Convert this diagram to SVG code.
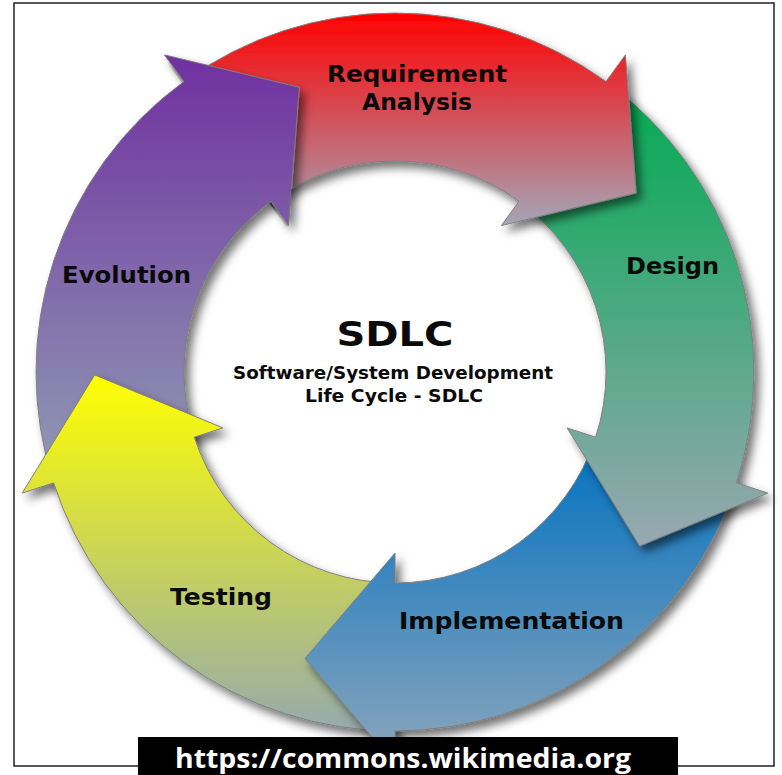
<svg xmlns="http://www.w3.org/2000/svg" xmlns:xlink="http://www.w3.org/1999/xlink" width="782" height="775" viewBox="0 0 782 775">
<style>
.arrow{stroke:#7f7f7f;stroke-width:1;stroke-linejoin:miter;filter:url(#sh)}
.lbl{font-family:"DejaVu Sans","Verdana",sans-serif;font-weight:bold;font-size:23px;fill:#0a0a0a;text-anchor:middle}
.title{font-family:"DejaVu Sans","Verdana",sans-serif;font-weight:bold;fill:#0a0a0a;text-anchor:middle}
.url{font-family:"Open Sans","Noto Sans",sans-serif;font-weight:bold;font-size:26px;fill:#ffffff;text-anchor:middle}
</style>
<defs>
<filter id="sh" x="-20%" y="-20%" width="140%" height="140%">
<feDropShadow dx="5" dy="6" stdDeviation="5" flood-color="#000" flood-opacity="0.55"/>
</filter>
<linearGradient id="gRed" gradientUnits="userSpaceOnUse" x1="0" y1="13" x2="0" y2="226">
<stop offset="0" stop-color="#ff0000"/><stop offset="1" stop-color="#a4a6b8"/>
</linearGradient>
<linearGradient id="gGreen" gradientUnits="userSpaceOnUse" x1="0" y1="82" x2="0" y2="546">
<stop offset="0" stop-color="#00aa50"/><stop offset="1" stop-color="#98a8b2"/>
</linearGradient>
<linearGradient id="gBlue" gradientUnits="userSpaceOnUse" x1="0" y1="437" x2="0" y2="764">
<stop offset="0" stop-color="#0070c0"/><stop offset="1" stop-color="#8ca6bc"/>
</linearGradient>
<linearGradient id="gYellow" gradientUnits="userSpaceOnUse" x1="0" y1="375" x2="0" y2="731">
<stop offset="0" stop-color="#ffff00"/><stop offset="1" stop-color="#96aaac"/>
</linearGradient>
<linearGradient id="gPurple" gradientUnits="userSpaceOnUse" x1="0" y1="55" x2="0" y2="483">
<stop offset="0" stop-color="#7030a0"/><stop offset="1" stop-color="#909cb4"/>
</linearGradient>
<clipPath id="clipPurpleHead">
<path d="M162.6,56.4 L164.6,54.9 L299.4,87.3 L288.6,225.6 L286.6,227.1 Z"/>
<path d="M120.0,141.2 A359,359 0 0 1 332.7,18.5 L358.4,164.2 A211,211 0 0 0 233.4,236.4 Z"/>
</clipPath>
</defs>
<rect x="0" y="0" width="782" height="775" fill="#ffffff"/>
<rect id="frame" x="14" y="3" width="760" height="763" fill="none" stroke="#222" stroke-width="1.5"/>

<g id="node-evolution">
<path id="arrow-evolution" class="arrow" fill="url(#gPurple)" d="M53.6,482.9 A359,359 0 0 1 184.0,81.6 L164.6,54.9 L299.4,87.3 L288.6,225.6 L271.0,201.3 A211,211 0 0 0 194.3,437.2 Z"/>
<text class="lbl" x="126.5" y="283" textLength="129" lengthAdjust="spacingAndGlyphs">Evolution</text>
</g>

<g id="node-testing">
<path id="arrow-testing" class="arrow" fill="url(#gYellow)" d="M395,731 A359,359 0 0 1 53.6,482.9 L22.2,493.1 L94.7,374.9 L222.9,427.9 L194.3,437.2 A211,211 0 0 0 395,583 Z"/>
<text class="lbl" x="221" y="605" textLength="102" lengthAdjust="spacingAndGlyphs">Testing</text>
</g>

<g id="node-implementation">
<path id="arrow-implementation" class="arrow" fill="url(#gBlue)" d="M736.4,482.9 A359,359 0 0 1 395,731 L395,764 L305,658.5 L395,553 L395,583 A211,211 0 0 0 595.7,437.2 Z"/>
<text class="lbl" x="511.5" y="629" textLength="225" lengthAdjust="spacingAndGlyphs">Implementation</text>
</g>

<g id="node-design">
<path id="arrow-design" class="arrow" fill="url(#gGreen)" d="M606.0,81.6 A359,359 0 0 1 736.4,482.9 L767.8,493.1 L639.7,546.1 L567.1,427.9 L595.7,437.2 A211,211 0 0 0 519.0,201.3 Z"/>
<text class="lbl" x="672.5" y="274" textLength="93" lengthAdjust="spacingAndGlyphs">Design</text>
</g>

<g id="node-requirement">
<path id="arrow-requirement" class="arrow" fill="url(#gRed)" d="M184.0,81.6 A359,359 0 0 1 606.0,81.6 L625.4,54.9 L636.2,193.1 L501.4,225.6 L519.0,201.3 A211,211 0 0 0 271.0,201.3 Z"/>
<text class="lbl" x="417" y="82" textLength="180" lengthAdjust="spacingAndGlyphs">Requirement</text>
<text class="lbl" x="417" y="110" textLength="110" lengthAdjust="spacingAndGlyphs">Analysis</text>
</g>

<g id="connectors">
<use xlink:href="#arrow-evolution" href="#arrow-evolution" clip-path="url(#clipPurpleHead)"/>
</g>

<g id="node-center">
<text class="title" x="395" y="346" font-size="33" textLength="117" lengthAdjust="spacingAndGlyphs">SDLC</text>
<text class="title" x="393" y="379" font-size="18" textLength="320" lengthAdjust="spacingAndGlyphs">Software/System Development</text>
<text class="title" x="394" y="402" font-size="18" textLength="178" lengthAdjust="spacingAndGlyphs">Life Cycle - SDLC</text>
</g>

<g id="banner">
<rect x="138" y="737" width="540" height="38" fill="#000"/>
<text class="url" x="403" y="768" textLength="456" lengthAdjust="spacingAndGlyphs">https://commons.wikimedia.org</text>
</g>
</svg>
